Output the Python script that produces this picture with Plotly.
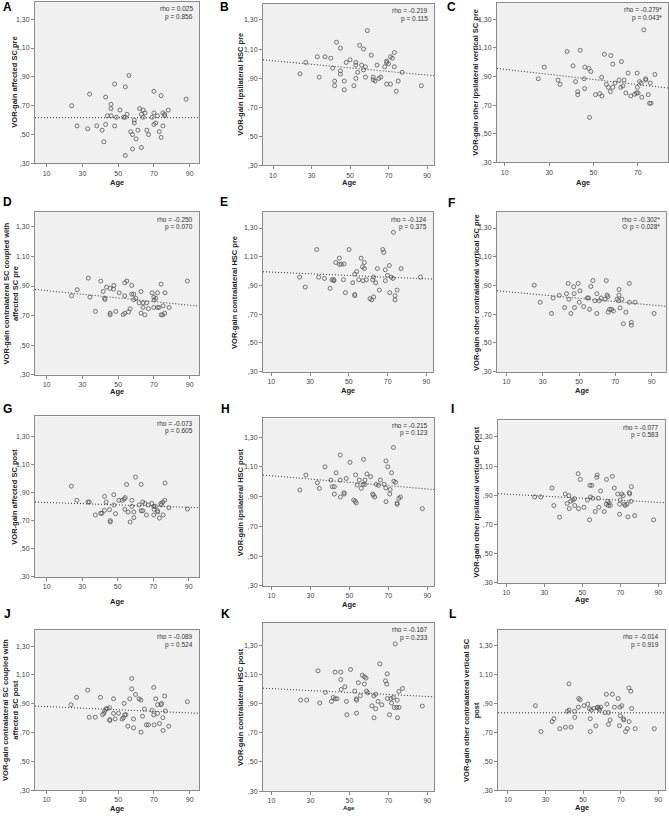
import plotly.graph_objects as go

# ---- data (age vs VOR gain, one pair per panel) ----
age_a = [24, 27, 34, 33, 38, 41, 42, 43, 43, 44, 46, 46, 46, 48, 48, 49, 51, 53, 54, 54, 54, 55, 56, 57, 58, 58, 59, 59, 60, 61, 62, 63, 63, 64, 64, 65, 66, 67, 69, 70, 70, 70, 71, 72, 73, 74, 74, 75, 75, 76, 76, 78, 88]
gain_a = [0.70, 0.56, 0.78, 0.54, 0.56, 0.53, 0.45, 0.76, 0.57, 0.63, 0.71, 0.68, 0.63, 0.85, 0.56, 0.62, 0.67, 0.62, 0.62, 0.83, 0.355, 0.64, 0.91, 0.52, 0.50, 0.40, 0.60, 0.58, 0.47, 0.53, 0.68, 0.41, 0.64, 0.62, 0.67, 0.65, 0.53, 0.50, 0.62, 0.57, 0.80, 0.65, 0.58, 0.63, 0.52, 0.77, 0.48, 0.56, 0.65, 0.63, 0.64, 0.67, 0.745]

age_b = [24, 27, 33, 34, 37, 40, 41, 42, 42, 43, 45, 45, 45, 47, 47, 48, 50, 52, 53, 53, 53, 54, 55, 56, 57, 57, 58, 58, 59, 61, 62, 62, 63, 64, 65, 66, 68, 69, 69, 69, 70, 71, 71, 72, 73, 73, 74, 75, 77, 87]
gain_b = [0.93, 1.008, 1.047, 0.907, 1.047, 1.037, 0.969, 0.88, 0.848, 1.147, 1.106, 0.95, 0.928, 0.88, 0.82, 1.008, 1.026, 0.848, 1.008, 0.99, 0.898, 0.94, 1.126, 0.99, 1.10, 0.957, 0.978, 0.907, 1.227, 1.058, 0.907, 0.889, 0.88, 0.99, 0.898, 0.907, 0.978, 1.017, 1.008, 0.859, 0.999, 1.047, 0.859, 1.037, 1.076, 0.978, 0.81, 0.88, 0.94, 0.848]

age_c = [25.1, 27.8, 34.0, 34.9, 38.1, 40.8, 41.9, 42.9, 42.9, 44.0, 45.8, 46.0, 46.1, 47.9, 48.2, 48.8, 50.9, 52.8, 53.7, 53.8, 54.9, 55.8, 56.7, 57.6, 57.8, 58.7, 58.7, 59.7, 61.5, 62.3, 62.6, 63.3, 63.8, 64.6, 65.6, 66.8, 68.6, 69.4, 69.7, 69.8, 70.1, 70.8, 71.5, 71.8, 72.7, 73.5, 73.6, 74.7, 75.3, 75.9, 75.6, 77.7]
gain_c = [0.884, 0.965, 0.875, 0.845, 1.074, 0.974, 0.864, 0.794, 0.773, 1.083, 0.884, 0.815, 0.965, 0.956, 0.614, 0.935, 0.773, 0.78, 0.894, 0.764, 1.055, 0.845, 0.824, 0.794, 1.046, 0.986, 0.824, 0.854, 0.875, 0.824, 1.004, 0.834, 0.875, 0.785, 0.924, 0.764, 0.776, 0.785, 0.924, 0.824, 0.785, 0.864, 0.854, 0.755, 1.226, 0.884, 0.875, 0.773, 0.713, 0.713, 0.854, 0.914]

age_d = [24.0, 27.1, 33.3, 34.2, 37.3, 40.3, 41.6, 42.4, 42.6, 43.5, 45.5, 45.5, 45.5, 47.4, 47.6, 48.7, 50.6, 52.8, 53.7, 53.7, 53.7, 54.8, 55.8, 56.7, 57.6, 57.6, 58.7, 58.7, 59.9, 61.7, 62.8, 62.8, 63.9, 63.9, 64.9, 66.0, 66.9, 69.0, 69.9, 69.9, 70.1, 71.0, 72.0, 72.0, 72.9, 74.0, 74.0, 74.9, 75.1, 76.0, 76.2, 78.5, 88.7]
gain_d = [0.834, 0.875, 0.954, 0.825, 0.728, 0.934, 0.863, 0.818, 0.809, 0.893, 0.884, 0.716, 0.705, 0.879, 0.904, 0.728, 0.854, 0.707, 0.716, 0.834, 0.922, 0.934, 0.725, 0.746, 0.904, 0.845, 0.845, 0.807, 0.816, 0.786, 0.863, 0.716, 0.786, 0.755, 0.705, 0.786, 0.746, 0.854, 0.825, 0.755, 0.805, 0.816, 0.854, 0.755, 0.755, 0.913, 0.705, 0.705, 0.766, 0.716, 0.854, 0.755, 0.934]

age_e = [24.6, 27.5, 33.4, 34.4, 37.4, 40.3, 41.3, 42.2, 42.3, 43.2, 45.1, 45.1, 46.1, 47.2, 47.5, 48.2, 50.1, 52.0, 53.0, 53.0, 53.0, 54.0, 55.1, 56.3, 57.0, 57.3, 58.0, 58.0, 59.0, 60.9, 61.8, 62.3, 62.8, 62.8, 63.8, 64.7, 65.7, 67.5, 68.0, 68.8, 68.8, 69.9, 70.9, 71.1, 71.9, 72.8, 73.0, 73.8, 73.8, 74.9, 76.9, 86.9]
gain_e = [0.958, 0.889, 1.15, 0.958, 0.949, 0.88, 0.94, 0.94, 0.933, 1.06, 1.09, 1.048, 1.048, 0.94, 1.05, 0.85, 1.15, 0.919, 0.979, 0.838, 0.829, 0.997, 0.94, 1.09, 1.03, 0.933, 1.06, 1.018, 0.94, 0.808, 0.799, 0.94, 0.958, 0.82, 0.919, 1.018, 0.868, 1.15, 1.131, 1.009, 0.933, 0.97, 1.039, 0.85, 0.958, 0.949, 1.27, 0.829, 0.799, 0.868, 1.018, 0.958]

age_f = [25.3, 28.6, 34.8, 35.7, 39.1, 42.0, 43.1, 44.0, 44.4, 45.5, 47.0, 47.3, 47.5, 49.5, 50.1, 50.5, 52.5, 54.5, 55.2, 55.8, 56.5, 57.6, 58.7, 59.8, 59.8, 61.1, 62.2, 64.3, 65.0, 65.4, 65.9, 66.1, 66.8, 67.9, 68.9, 70.9, 71.8, 72.0, 72.0, 72.6, 73.6, 74.4, 75.8, 75.2, 77.7, 77.7, 78.8, 78.8, 80.8, 91.3]
gain_f = [0.902, 0.783, 0.705, 0.813, 0.831, 0.746, 0.843, 0.914, 0.804, 0.705, 0.891, 0.843, 0.746, 0.914, 0.783, 0.863, 0.753, 0.813, 0.813, 0.734, 0.893, 0.934, 0.794, 0.843, 0.705, 0.794, 0.813, 0.804, 0.934, 0.833, 0.822, 0.714, 0.734, 0.734, 0.722, 0.804, 0.794, 0.872, 0.833, 0.744, 0.804, 0.633, 0.714, 1.31, 0.914, 0.783, 0.643, 0.624, 0.783, 0.705]

age_g = [23.9, 27.0, 33.2, 34.0, 37.4, 40.4, 41.1, 42.5, 42.6, 43.5, 45.4, 45.8, 45.8, 47.8, 47.8, 48.8, 50.7, 52.5, 53.7, 54.2, 54.0, 55.0, 55.9, 57.0, 58.0, 58.0, 59.1, 59.1, 60.0, 62.1, 63.2, 63.2, 64.1, 64.1, 65.3, 66.2, 67.3, 69.2, 70.3, 70.3, 70.5, 71.2, 72.4, 72.6, 73.5, 74.3, 74.6, 75.4, 75.6, 76.5, 76.7, 78.8, 89.3]
gain_g = [0.945, 0.844, 0.832, 0.832, 0.74, 0.752, 0.752, 0.773, 0.872, 0.832, 0.778, 0.70, 0.69, 0.884, 0.811, 0.749, 0.844, 0.844, 0.853, 0.863, 0.78, 0.957, 0.761, 0.69, 0.844, 0.801, 0.761, 0.721, 1.009, 0.811, 0.957, 0.77, 0.77, 0.832, 0.822, 0.74, 0.811, 0.822, 0.801, 0.74, 0.78, 0.801, 0.77, 0.761, 0.718, 0.822, 0.811, 0.832, 0.74, 0.844, 0.967, 0.792, 0.782]

age_h = [24.6, 27.7, 33.6, 34.6, 37.5, 40.5, 41.3, 42.3, 42.3, 43.2, 45.3, 45.3, 45.4, 47.3, 47.3, 48.4, 50.3, 52.2, 53.0, 53.2, 53.5, 54.0, 55.1, 56.1, 57.0, 57.3, 58.0, 58.0, 59.0, 60.9, 62.0, 62.3, 63.0, 63.8, 64.9, 65.9, 67.8, 68.7, 68.8, 68.8, 69.7, 70.9, 70.7, 71.6, 72.6, 72.8, 73.7, 74.5, 74.5, 75.4, 76.2, 87.4]
gain_h = [0.944, 1.045, 0.993, 0.955, 1.10, 1.011, 0.966, 0.966, 0.917, 1.06, 1.179, 1.011, 0.897, 0.926, 0.917, 1.022, 1.13, 0.877, 0.868, 1.045, 0.857, 0.978, 1.011, 0.955, 0.982, 1.15, 0.982, 1.011, 1.052, 1.034, 0.917, 0.909, 0.897, 0.982, 0.976, 1.011, 0.982, 0.958, 1.14, 0.866, 1.10, 0.947, 0.917, 1.06, 1.23, 1.003, 0.996, 0.857, 0.848, 0.888, 0.897, 0.819]

age_i = [24.9, 28.1, 34.0, 35.0, 38.0, 41.0, 42.0, 42.9, 43.1, 43.8, 45.0, 45.9, 46.0, 47.8, 48.0, 48.9, 50.8, 52.7, 53.8, 54.0, 54.3, 55.0, 55.4, 56.8, 57.6, 57.8, 58.4, 58.7, 59.6, 61.5, 62.6, 62.7, 63.3, 63.6, 64.2, 64.7, 65.8, 66.8, 68.6, 69.6, 69.6, 70.0, 70.7, 71.5, 72.1, 72.6, 73.5, 74.0, 74.7, 74.9, 75.6, 75.8, 77.5, 87.5]
gain_i = [0.889, 0.889, 0.95, 0.83, 0.75, 0.909, 0.845, 0.898, 0.809, 0.859, 0.868, 0.877, 0.83, 1.048, 0.809, 1.009, 0.818, 0.868, 0.732, 0.968, 0.889, 0.968, 0.88, 0.789, 1.023, 1.039, 0.88, 0.818, 0.93, 0.789, 0.839, 1.009, 0.859, 0.83, 0.848, 0.83, 1.03, 0.95, 0.909, 0.839, 0.77, 0.868, 0.909, 0.898, 0.839, 0.83, 0.839, 0.752, 0.918, 0.909, 0.859, 0.959, 0.761, 0.732]

age_j = [23.6, 26.7, 32.9, 33.8, 37.2, 40.1, 41.3, 42.0, 42.4, 43.1, 43.9, 45.2, 45.3, 45.3, 47.4, 47.4, 48.3, 50.2, 52.2, 53.0, 53.3, 53.7, 54.3, 55.4, 56.5, 57.6, 57.6, 58.6, 58.6, 59.7, 61.7, 62.7, 62.8, 63.6, 64.7, 65.8, 66.9, 69.0, 69.9, 69.9, 70.1, 71.0, 72.0, 72.0, 73.1, 74.0, 74.2, 75.0, 75.1, 76.0, 76.4, 78.3, 88.7]
gain_j = [0.893, 0.944, 0.994, 0.806, 0.806, 0.944, 0.824, 0.833, 0.849, 0.863, 0.866, 0.872, 0.79, 0.783, 0.934, 0.833, 0.794, 0.833, 0.794, 0.803, 0.902, 0.822, 0.824, 0.744, 0.934, 1.075, 1.003, 0.794, 0.732, 0.964, 0.934, 0.925, 0.702, 0.813, 0.863, 0.753, 0.753, 0.854, 1.013, 0.822, 0.753, 0.934, 0.893, 0.833, 0.762, 0.893, 0.902, 0.803, 0.714, 0.953, 0.849, 0.744, 0.914]

age_k = [25.0, 28.1, 33.9, 34.8, 37.7, 40.8, 41.7, 42.7, 42.7, 43.7, 45.6, 45.6, 45.8, 47.7, 48.5, 48.7, 50.6, 52.7, 53.5, 53.7, 53.7, 54.6, 55.6, 56.6, 57.7, 57.7, 58.5, 58.8, 59.5, 61.6, 62.6, 62.6, 63.5, 63.5, 64.7, 65.6, 66.6, 68.5, 69.2, 69.4, 69.5, 70.6, 71.4, 71.6, 72.5, 73.0, 73.5, 74.3, 74.5, 74.7, 75.4, 75.5, 77.3, 87.4]
gain_k = [0.924, 0.924, 1.125, 0.904, 0.977, 0.915, 0.942, 1.116, 0.933, 0.933, 1.116, 1.065, 0.997, 1.015, 0.915, 0.824, 1.134, 0.986, 0.933, 0.924, 0.835, 1.043, 0.954, 1.095, 1.084, 1.034, 1.075, 0.986, 0.974, 0.885, 0.803, 0.954, 0.965, 0.865, 0.915, 1.173, 0.892, 1.056, 1.034, 1.104, 0.935, 0.824, 0.935, 0.904, 0.942, 0.874, 1.31, 0.874, 0.924, 0.803, 0.983, 0.874, 1.004, 0.883]

age_l = [24.6, 27.6, 33.5, 34.5, 37.6, 40.6, 42.5, 41.6, 42.5, 43.6, 45.4, 45.6, 47.5, 47.7, 48.4, 50.5, 52.5, 53.4, 53.8, 53.8, 54.4, 55.7, 56.8, 57.5, 57.8, 58.5, 58.7, 59.4, 61.6, 62.4, 62.6, 63.5, 63.5, 64.4, 65.6, 66.7, 68.7, 69.4, 69.6, 69.8, 70.6, 71.5, 71.7, 72.6, 73.6, 74.4, 74.5, 75.4, 75.8, 77.7, 87.9]
gain_l = [0.884, 0.705, 0.774, 0.794, 0.725, 0.735, 1.035, 0.845, 0.854, 0.735, 0.845, 0.803, 0.874, 0.934, 0.925, 0.884, 0.895, 0.863, 0.794, 0.705, 0.854, 0.865, 0.744, 0.87, 0.874, 0.865, 0.854, 0.874, 0.836, 0.963, 0.895, 0.836, 0.755, 0.785, 0.963, 0.874, 0.934, 0.746, 0.874, 0.815, 0.884, 0.794, 0.785, 0.705, 0.725, 1.007, 0.774, 0.984, 0.865, 0.725, 0.725]

panel_letters = ["A", "B", "C", "D", "E", "F", "G", "H", "I", "J", "K", "L"]
y_titles = [
    "VOR-gain affected SC pre",
    "VOR-gain ipsilateral HSC pre",
    "VOR-gain other ipsilateral vertical SC pre",
    "VOR-gain contralateral SC coupled with<br>affected SC pre",
    "VOR-gain contralateral HSC pre",
    "VOR-gain other contralateral vertical SC pre",
    "VOR-gain affected SC post",
    "VOR-gain ipsilateral HSC post",
    "VOR-gain other ipsilateral vertical SC post",
    "VOR-gain contralateral SC coupled with<br>affected SC post",
    "VOR-gain contralateral HSC post",
    "VOR-gain other contralateral vertical SC<br>post",
]
rho_labels = ["rho = 0.025", "rho = -0.219", "rho = -0.279*", "rho = -0.250", "rho = -0.124", "rho = -0.302*",
              "rho = -0.073", "rho = -0.215", "rho = -0.077", "rho = -0.089", "rho = -0.167", "rho = -0.014"]
p_labels = ["p = 0.856", "p = 0.115", "p = 0.043*", "p = 0.070", "p = 0.375", "p = 0.028*",
            "p = 0.605", "p = 0.123", "p = 0.583", "p = 0.524", "p = 0.233", "p = 0.919"]
# fitted line read at age 10 and age 90
fit_at_10 = [0.617, 1.020, 0.950, 0.869, 0.993, 0.857, 0.829, 1.040, 0.908, 0.880, 1.003, 0.835]
fit_at_90 = [0.617, 0.921, 0.808, 0.770, 0.946, 0.764, 0.794, 0.951, 0.852, 0.836, 0.949, 0.835]

x_tick_vals = [10, 30, 50, 70, 90]
y_tick_vals = [0.30, 0.50, 0.70, 0.90, 1.10, 1.30]
y_tick_text = [",30", ",50", ",70", ",90", "1,10", "1,30"]

ages = [age_a, age_b, age_c, age_d, age_e, age_f, age_g, age_h, age_i, age_j, age_k, age_l]
gains = [gain_a, gain_b, gain_c, gain_d, gain_e, gain_f, gain_g, gain_h, gain_i, gain_j, gain_k, gain_l]

# ---- layout in pixels: frame (left, right, top, bottom), axis ranges ----
W, H = 669, 817
frames = [(35, 199, 2, 164), (263, 434, 4, 166), (497, 668, 3, 163),
          (35, 199, 213, 376), (263, 433, 213, 373), (497, 666, 213, 373),
          (35, 199, 418, 579), (263, 434, 420, 588), (498, 665, 422, 585),
          (35, 199, 632, 793), (263, 434, 625, 794), (498, 665, 632, 793)]
x_ranges = [(3.5, 95.2), (4.8, 93.6), (6.5, 83.6), (3.5, 95.2), (5.7, 93.4), (4.8, 97.9),
            (3.4, 95.8), (5.7, 93.4), (5.6, 93.5), (3.5, 95.2), (5.7, 93.4), (4.7, 93.6)]
y_tops = [1.419, 1.41, 1.413, 1.40, 1.41, 1.41, 1.44, 1.425, 1.413, 1.414, 1.455, 1.41]
letter_pos = [(7, 7), (224, 7), (451, 7), (7, 203), (224, 203), (451, 204),
              (7, 411), (225, 411), (452, 411), (7, 616), (225, 616), (452, 616)]
ytitle_x = [15, 241, 476, 11, 235, 477, 15, 240, 477, 11, 241, 472]
age_y = [183, 183, 183, 393, 392, 392, 604, 607, 602, 811, 811, 810]


def px(x):
    return x / W


def py(y):
    return 1 - y / H


fig = go.Figure()
annotations = []
layout_axes = {}

for i in range(12):
    n = "" if i == 0 else str(i + 1)
    L, R, T, B = frames[i]
    x0, x1 = x_ranges[i]
    slope = (fit_at_90[i] - fit_at_10[i]) / 80.0

    fig.add_trace(go.Scatter(
        x=[x0, x1],
        y=[fit_at_10[i] + slope * (x0 - 10), fit_at_10[i] + slope * (x1 - 10)],
        mode="lines", line=dict(color="#333333", width=1, dash="1px,2px"),
        xaxis="x" + n, yaxis="y" + n, showlegend=False, hoverinfo="skip"))
    fig.add_trace(go.Scatter(
        x=ages[i], y=gains[i], mode="markers",
        marker=dict(symbol="circle-open", size=4, color="#555555", line=dict(width=0.8)),
        xaxis="x" + n, yaxis="y" + n, showlegend=False))

    layout_axes["xaxis" + n] = dict(
        domain=[px(L), px(R)], anchor="y" + n, range=[x0, x1],
        tickvals=x_tick_vals, ticks="outside", ticklen=3, tickcolor="#888888",
        tickfont=dict(size=7, color="#444444", family="Liberation Sans"),
        showgrid=False, zeroline=False, showline=True, mirror=True,
        linecolor="#8a8a8a", linewidth=1)
    layout_axes["yaxis" + n] = dict(
        domain=[py(B), py(T)], anchor="x" + n, range=[0.30, y_tops[i]],
        tickvals=y_tick_vals, ticktext=y_tick_text, ticks="outside", ticklen=3,
        tickcolor="#888888",
        tickfont=dict(size=7, color="#444444", family="Liberation Sans"),
        showgrid=False, zeroline=False, showline=True, mirror=True,
        linecolor="#8a8a8a", linewidth=1)

    annotations.append(dict(x=px(R - 4), y=py(T + 7), xref="paper", yref="paper",
                            text=rho_labels[i], showarrow=False, xanchor="right", yanchor="middle",
                            font=dict(size=6.5, color="#333333", family="Liberation Sans")))
    annotations.append(dict(x=px(R - 4), y=py(T + 15), xref="paper", yref="paper",
                            text=p_labels[i], showarrow=False, xanchor="right", yanchor="middle",
                            font=dict(size=6.5, color="#333333", family="Liberation Sans")))
    annotations.append(dict(x=px(letter_pos[i][0]), y=py(letter_pos[i][1]), xref="paper", yref="paper",
                            text="<b>" + panel_letters[i] + "</b>", showarrow=False,
                            xanchor="center", yanchor="middle",
                            font=dict(size=12, color="#000000", family="Liberation Sans")))
    annotations.append(dict(x=px(ytitle_x[i]), y=py((T + B) / 2), xref="paper", yref="paper",
                            text="<b>" + y_titles[i] + "</b>", showarrow=False, textangle=-90,
                            xanchor="center", yanchor="middle",
                            font=dict(size=7.5, color="#222222", family="Liberation Sans")))
    annotations.append(dict(x=px((L + R) / 2), y=py(age_y[i]), xref="paper", yref="paper",
                            text="<b>Age</b>", showarrow=False, xanchor="center", yanchor="middle",
                            font=dict(size=6 if i == 10 else 7.5, color="#222222",
                                      family="Liberation Sans")))

fig.update_layout(
    width=W, height=H, margin=dict(l=0, r=0, t=0, b=0),
    paper_bgcolor="white", plot_bgcolor="#f0f0f0",
    annotations=annotations, **layout_axes)

fig.write_html("out.html", config={"displayModeBar": False},
               post_script="document.body.style.margin='0';document.body.style.overflow='hidden';")
